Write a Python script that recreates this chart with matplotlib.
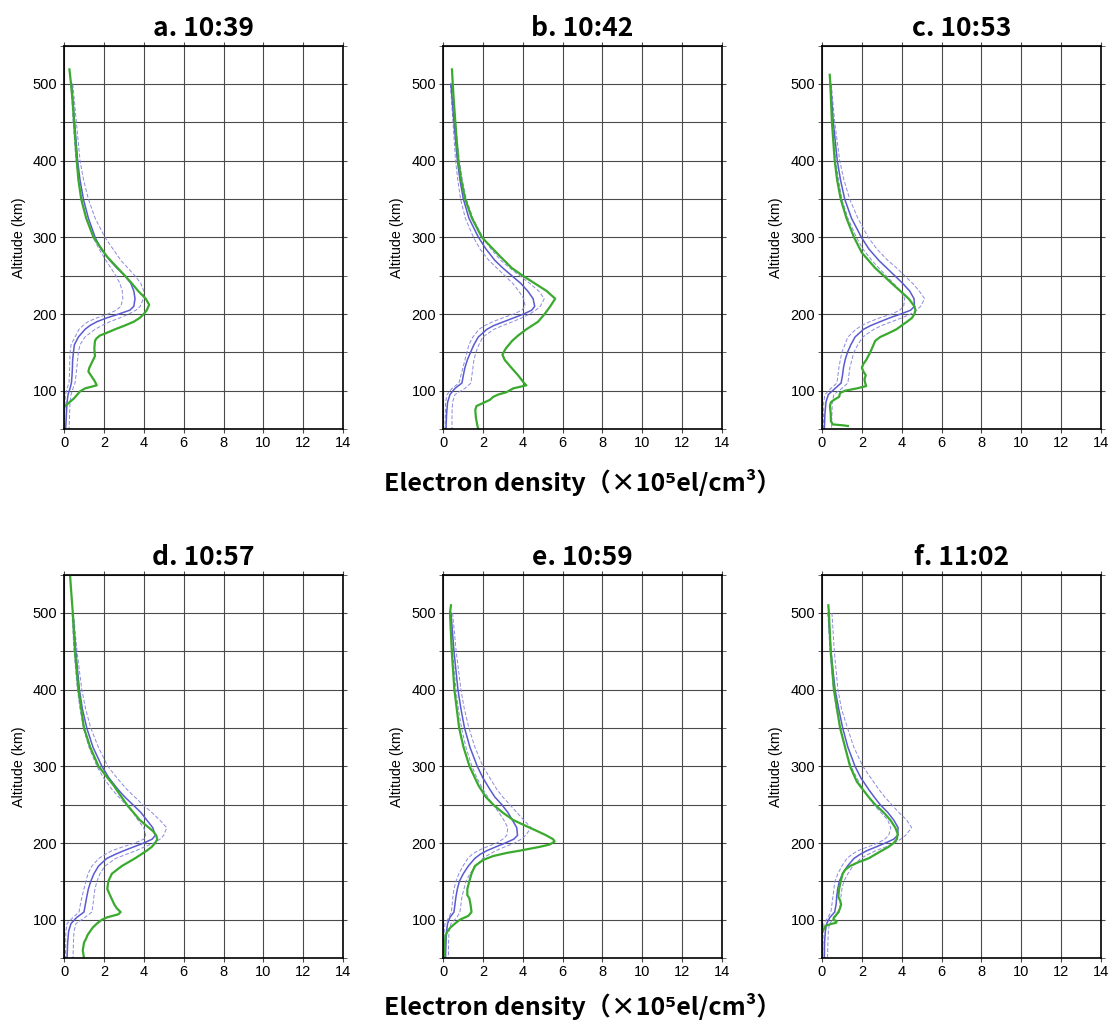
import numpy as np
import matplotlib
matplotlib.use("Agg")
import matplotlib.pyplot as plt
from matplotlib.ticker import MultipleLocator

# panel titles
titles = ["a. 10:39", "b. 10:42", "c. 10:53", "d. 10:57", "e. 10:59", "f. 11:02"]

# altitudes (km) for model profile and its upper / lower bounds
alt_model = [500, 450, 400, 375, 350, 325, 300, 285, 270, 260, 250, 240, 230, 220,
             210, 205, 200, 195, 190, 185, 180, 170, 160, 150, 140, 130, 120, 110,
             103, 95, 85, 70, 50]

# model (blue solid), upper and lower (blue dashed), x 1e5 el/cm3
model_a = [0.38, 0.53, 0.68, 0.8, 0.97, 1.22, 1.56, 1.85, 2.3, 2.65, 3.05, 3.35, 3.5, 3.56,
           3.5, 3.3, 2.75, 2.15, 1.65, 1.3, 1.05, 0.72, 0.52, 0.47, 0.43, 0.42, 0.4, 0.37,
           0.3, 0.2, 0.15, 0.12, 0.08]
upper_a = [0.44, 0.62, 0.8, 0.98, 1.22, 1.56, 2.05, 2.45, 2.85, 3.2, 3.55, 3.85, 4.0, 3.98,
           3.82, 3.6, 3.25, 2.8, 2.3, 1.9, 1.55, 1.05, 0.8, 0.72, 0.68, 0.64, 0.6, 0.55,
           0.45, 0.35, 0.3, 0.28, 0.25]
lower_a = [0.34, 0.46, 0.6, 0.72, 0.88, 1.12, 1.46, 1.75, 2.1, 2.35, 2.6, 2.8, 2.92, 2.95,
           2.85, 2.62, 2.2, 1.65, 1.2, 0.95, 0.75, 0.55, 0.35, 0.3, 0.29, 0.28, 0.27, 0.25,
           0.15, 0.07, 0.05, 0.03, 0.02]

model_b = [0.4, 0.55, 0.72, 0.85, 1.02, 1.3, 1.78, 2.15, 2.6, 3.0, 3.45, 3.9, 4.25, 4.52,
           4.6, 4.45, 4.05, 3.55, 3.05, 2.55, 2.2, 1.77, 1.55, 1.38, 1.22, 1.1, 1.02, 0.95,
           0.6, 0.35, 0.23, 0.18, 0.15]
upper_b = [0.45, 0.62, 0.82, 0.97, 1.17, 1.5, 2.0, 2.4, 2.9, 3.35, 3.85, 4.35, 4.8, 5.08,
           4.88, 4.65, 4.35, 3.95, 3.5, 3.0, 2.55, 2.0, 1.8, 1.65, 1.55, 1.5, 1.45, 1.4,
           1.1, 0.6, 0.48, 0.45, 0.45]
lower_b = [0.37, 0.5, 0.63, 0.74, 0.88, 1.12, 1.53, 1.85, 2.3, 2.7, 3.1, 3.5, 3.8, 4.05,
           4.12, 3.95, 3.55, 3.0, 2.5, 2.1, 1.8, 1.5, 1.3, 1.2, 1.1, 1.0, 0.9, 0.8,
           0.45, 0.2, 0.13, 0.12, 0.1]

model_c = [0.43, 0.57, 0.77, 0.93, 1.14, 1.48, 1.98, 2.35, 2.85, 3.25, 3.65, 4.05, 4.4, 4.62,
           4.64, 4.45, 3.95, 3.4, 2.92, 2.45, 2.08, 1.66, 1.45, 1.28, 1.16, 1.08, 1.03, 0.96,
           0.66, 0.32, 0.2, 0.15, 0.12]
upper_c = [0.47, 0.64, 0.89, 1.1, 1.39, 1.8, 2.32, 2.75, 3.3, 3.75, 4.15, 4.55, 4.88, 5.15,
           4.95, 4.75, 4.45, 4.0, 3.5, 3.0, 2.6, 2.05, 1.8, 1.6, 1.5, 1.4, 1.35, 1.3,
           1.0, 0.6, 0.52, 0.5, 0.48]
lower_c = [0.4, 0.52, 0.69, 0.83, 1.0, 1.3, 1.73, 2.05, 2.5, 2.85, 3.22, 3.6, 3.95, 4.15,
           4.1, 3.9, 3.5, 2.9, 2.4, 2.0, 1.7, 1.3, 1.15, 1.0, 0.92, 0.85, 0.8, 0.75,
           0.45, 0.15, 0.09, 0.08, 0.07]

model_d = [0.44, 0.59, 0.77, 0.92, 1.14, 1.45, 1.9, 2.25, 2.7, 3.05, 3.45, 3.85, 4.15, 4.45,
           4.58, 4.42, 4.0, 3.5, 3.0, 2.55, 2.15, 1.73, 1.5, 1.34, 1.22, 1.14, 1.07, 1.0,
           0.64, 0.35, 0.23, 0.18, 0.15]
upper_d = [0.47, 0.65, 0.89, 1.08, 1.34, 1.72, 2.2, 2.65, 3.15, 3.55, 3.95, 4.4, 4.8, 5.15,
           5.0, 4.82, 4.5, 4.05, 3.6, 3.1, 2.6, 2.05, 1.8, 1.65, 1.55, 1.5, 1.45, 1.4,
           1.05, 0.6, 0.5, 0.47, 0.45]
lower_d = [0.4, 0.5, 0.67, 0.8, 0.97, 1.25, 1.65, 1.98, 2.4, 2.75, 3.1, 3.45, 3.7, 4.0,
           4.1, 4.0, 3.55, 2.95, 2.4, 2.05, 1.75, 1.4, 1.2, 1.1, 1.0, 0.9, 0.82, 0.75,
           0.45, 0.15, 0.09, 0.08, 0.07]

model_e = [0.4, 0.55, 0.75, 0.9, 1.08, 1.35, 1.72, 2.0, 2.35, 2.6, 2.95, 3.25, 3.48, 3.7,
           3.74, 3.55, 3.12, 2.65, 2.2, 1.85, 1.6, 1.27, 1.02, 0.82, 0.72, 0.65, 0.6, 0.55,
           0.35, 0.23, 0.18, 0.15, 0.13]
upper_e = [0.48, 0.66, 0.9, 1.07, 1.3, 1.6, 2.0, 2.35, 2.7, 3.0, 3.35, 3.7, 4.05, 4.42,
           4.15, 3.92, 3.6, 3.1, 2.65, 2.3, 2.0, 1.65, 1.35, 1.15, 1.05, 0.95, 0.9, 0.85,
           0.7, 0.4, 0.3, 0.28, 0.27]
lower_e = [0.36, 0.48, 0.65, 0.77, 0.93, 1.15, 1.45, 1.7, 2.0, 2.25, 2.5, 2.8, 3.05, 3.25,
           3.2, 3.0, 2.7, 2.2, 1.75, 1.45, 1.25, 1.0, 0.8, 0.65, 0.55, 0.5, 0.46, 0.42,
           0.3, 0.1, 0.06, 0.05, 0.04]

model_f = [0.32, 0.45, 0.66, 0.84, 1.04, 1.3, 1.66, 1.95, 2.34, 2.62, 2.92, 3.3, 3.6, 3.82,
           3.8, 3.6, 3.18, 2.72, 2.25, 1.9, 1.61, 1.28, 1.04, 0.87, 0.79, 0.74, 0.71, 0.64,
           0.4, 0.24, 0.17, 0.13, 0.12]
upper_f = [0.5, 0.62, 0.8, 0.98, 1.28, 1.6, 2.05, 2.45, 2.85, 3.15, 3.5, 3.85, 4.25, 4.5,
           4.2, 3.95, 3.65, 3.2, 2.7, 2.3, 1.95, 1.55, 1.3, 1.1, 1.0, 0.95, 0.92, 0.88,
           0.65, 0.38, 0.32, 0.3, 0.28]
lower_f = [0.3, 0.4, 0.58, 0.72, 0.92, 1.15, 1.45, 1.75, 2.05, 2.35, 2.6, 2.95, 3.3, 3.45,
           3.35, 3.15, 2.8, 2.3, 1.8, 1.5, 1.25, 1.0, 0.8, 0.65, 0.6, 0.55, 0.5, 0.45,
           0.3, 0.1, 0.06, 0.05, 0.04]

# observed profiles (green)
obs_alt_a = [519, 500, 475, 450, 425, 400, 375, 350, 325, 300, 275, 250, 240, 230, 220,
             212, 205, 200, 195, 190, 185, 180, 175, 172, 168, 165, 155, 145, 130, 125,
             112, 107, 103, 99, 90, 80, 78]
obs_a = [0.27, 0.35, 0.44, 0.5, 0.57, 0.64, 0.72, 0.86, 1.11, 1.48, 2.15, 3.05, 3.4, 3.72,
         4.1, 4.27, 4.15, 4.0, 3.8, 3.5, 3.05, 2.55, 2.1, 1.8, 1.62, 1.55, 1.52, 1.55,
         1.27, 1.22, 1.55, 1.64, 1.05, 0.8, 0.5, 0.05, 0.0]

obs_alt_b = [519, 500, 475, 450, 425, 400, 375, 350, 325, 300, 275, 260, 250, 240, 230,
             220, 210, 200, 190, 180, 172, 165, 155, 147, 140, 130, 120, 110, 107, 103,
             98, 95, 92, 88, 83, 80, 75, 65, 55, 50]
obs_b = [0.45, 0.49, 0.55, 0.62, 0.69, 0.77, 0.91, 1.11, 1.45, 1.95, 2.87, 3.45, 4.0, 4.6,
         5.2, 5.63, 5.38, 5.1, 4.77, 4.18, 3.77, 3.47, 3.15, 2.98, 3.1, 3.43, 3.77, 4.07,
         4.18, 3.52, 3.18, 2.77, 2.52, 2.35, 1.93, 1.68, 1.62, 1.65, 1.72, 1.77]

obs_alt_c = [512, 500, 450, 400, 375, 350, 325, 300, 280, 260, 250, 240, 230, 220, 210,
             205, 200, 195, 190, 180, 175, 170, 165, 160, 150, 140, 135, 130, 125, 120,
             115, 110, 106, 103, 100, 97, 92, 88, 85, 80, 70, 60, 56, 55, 54]
obs_c = [0.39, 0.42, 0.5, 0.64, 0.76, 0.94, 1.23, 1.61, 2.0, 2.67, 3.09, 3.5, 3.93, 4.35,
         4.64, 4.69, 4.64, 4.52, 4.27, 3.73, 3.34, 2.92, 2.67, 2.59, 2.42, 2.22, 2.08, 2.0,
         2.08, 2.2, 2.13, 2.17, 2.22, 1.75, 1.16, 0.91, 0.86, 0.6, 0.45, 0.4, 0.44, 0.45,
         0.55, 1.0, 1.3]

obs_alt_d = [550, 531, 500, 450, 400, 350, 325, 300, 275, 250, 230, 215, 210, 205, 200,
             195, 190, 180, 170, 160, 150, 140, 130, 120, 115, 110, 107, 103, 100, 95,
             90, 85, 80, 75, 70, 60, 50]
obs_d = [0.3, 0.35, 0.44, 0.55, 0.72, 1.0, 1.31, 1.73, 2.49, 3.15, 3.8, 4.48, 4.62, 4.68,
         4.57, 4.4, 4.15, 3.56, 2.9, 2.4, 2.22, 2.17, 2.34, 2.52, 2.64, 2.84, 2.72, 2.15,
         1.9, 1.65, 1.45, 1.31, 1.18, 1.1, 1.0, 0.94, 1.0]

obs_alt_e = [510, 500, 450, 400, 375, 350, 325, 300, 275, 260, 250, 240, 230, 222, 215,
             210, 205, 202, 198, 195, 190, 187, 183, 178, 170, 160, 150, 140, 132, 128,
             120, 110, 105, 100, 95, 90, 85, 80, 70, 60, 50]
obs_e = [0.4, 0.35, 0.44, 0.57, 0.69, 0.81, 1.03, 1.33, 1.78, 2.15, 2.52, 2.98, 3.52, 4.18,
         4.77, 5.18, 5.52, 5.6, 5.35, 4.85, 3.85, 3.18, 2.52, 2.02, 1.6, 1.43, 1.32, 1.22,
         1.22, 1.32, 1.38, 1.43, 1.27, 0.85, 0.6, 0.38, 0.23, 0.13, 0.1, 0.08, 0.07]

obs_alt_f = [510, 500, 450, 400, 350, 300, 280, 260, 250, 240, 230, 220, 212, 205, 200,
             195, 190, 180, 175, 170, 165, 160, 155, 150, 140, 130, 125, 120, 115, 110,
             106, 103, 100, 98, 96, 94, 92, 88, 85]
obs_f = [0.32, 0.35, 0.44, 0.6, 0.91, 1.41, 1.75, 2.34, 2.67, 3.09, 3.43, 3.68, 3.8, 3.76,
         3.6, 3.34, 3.0, 2.34, 1.83, 1.41, 1.16, 1.04, 0.99, 0.94, 0.86, 0.82, 0.91, 0.96,
         0.91, 0.82, 0.71, 0.6, 0.57, 0.74, 0.71, 0.4, 0.18, 0.1, 0.03]

models = [model_a, model_b, model_c, model_d, model_e, model_f]
uppers = [upper_a, upper_b, upper_c, upper_d, upper_e, upper_f]
lowers = [lower_a, lower_b, lower_c, lower_d, lower_e, lower_f]
obs_alts = [obs_alt_a, obs_alt_b, obs_alt_c, obs_alt_d, obs_alt_e, obs_alt_f]
obs_vals = [obs_a, obs_b, obs_c, obs_d, obs_e, obs_f]

CJK = ["Noto Sans CJK JP", "DejaVu Sans"]
plt.rcParams["font.family"] = ["Liberation Sans", "DejaVu Sans"]

fig = plt.figure(figsize=(11.1, 10.23), dpi=100)

lefts = [0.0577, 0.3991, 0.7405]
bottoms = [0.5806, 0.0635]
w, h = 0.2514, 0.3748

green = "#3aaa2e"
blue = "#5a5ad2"
blue_light = "#8a8ae0"
grid_col = "#4a4a4a"

for i in range(6):
    r, c = divmod(i, 3)
    ax = fig.add_axes([lefts[c], bottoms[r], w, h])

    ax.plot(uppers[i], alt_model, color=blue_light, lw=0.7, ls=(0, (4, 2)))
    ax.plot(lowers[i], alt_model, color=blue_light, lw=0.7, ls=(0, (4, 2)))
    ax.plot(models[i], alt_model, color=blue, lw=1.1)
    ax.plot(obs_vals[i], obs_alts[i], color=green, lw=1.6)

    ax.set_xlim(0, 14)
    ax.set_ylim(50, 550)
    ax.xaxis.set_major_locator(MultipleLocator(2))
    ax.yaxis.set_major_locator(MultipleLocator(100))
    ax.yaxis.set_minor_locator(MultipleLocator(50))
    ax.grid(True, which="both", color=grid_col, lw=0.8)
    ax.set_axisbelow(True)
    ax.tick_params(which="both", direction="out", length=3, color=grid_col,
                   top=True, right=True, labelsize=10.5, pad=2)
    for s in ax.spines.values():
        s.set_linewidth(1.2)
        s.set_color("black")

    ax.set_ylabel("Altitude (km)", fontsize=10.3, labelpad=5)
    ax.set_title(titles[i], fontsize=19, fontweight="bold", family=CJK, pad=7)

xlabel = "Electron density（×10⁵el/cm³）"
fig.text(0.525, 0.528, xlabel, ha="center", va="center",
         fontsize=18, fontweight="bold", family=CJK)
fig.text(0.525, 0.016, xlabel, ha="center", va="center",
         fontsize=18, fontweight="bold", family=CJK)

fig.savefig("out.png", dpi=100)
